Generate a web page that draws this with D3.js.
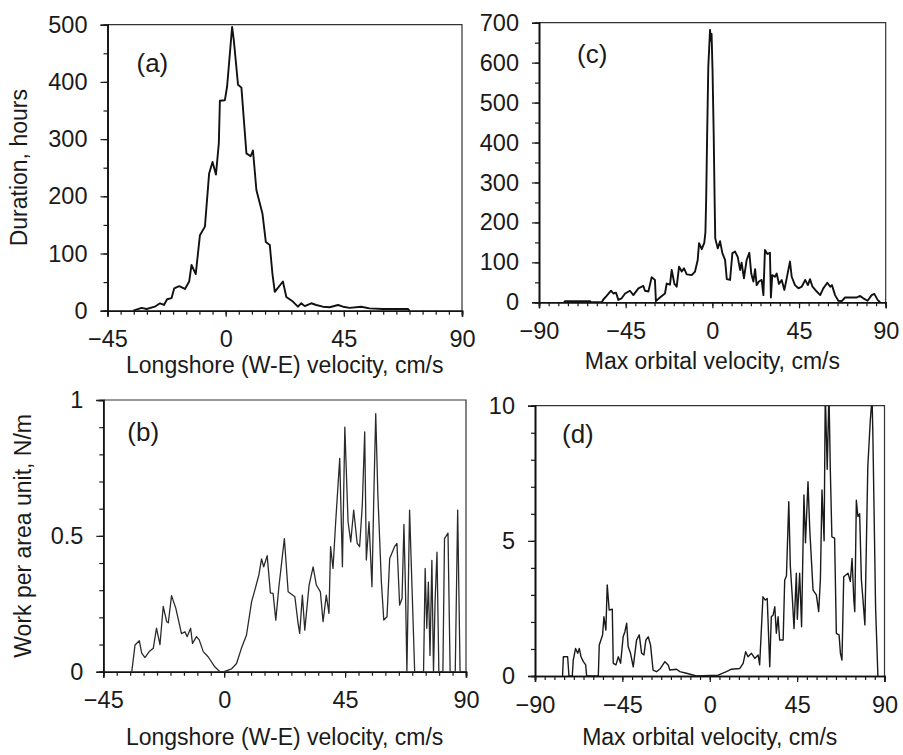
<!DOCTYPE html>
<html>
<head>
<meta charset="utf-8">
<script src="https://cdnjs.cloudflare.com/ajax/libs/d3/7.8.5/d3.min.js"></script>
<style>
  body { margin: 0; background: #fff; }
  svg { display: block; }
  text { font-family: "Liberation Sans", Arial, sans-serif; fill: #1a1a1a; }
</style>
</head>
<body>
<div id="svg-container"></div>
<script>
// ---- data ----
// (a) duration vs longshore velocity
var velA = [-35.2, -32, -30.1, -27, -25, -23.5, -22.3, -20.6, -19.6, -17.7,
  -15.5, -13.9, -13, -11.4, -9.8, -7.9, -6.3, -5, -3.7, -2.6,
  -2.2, -0.3, 0.55, 2.45, 3.1, 4.7, 6, 7.9, 9.5, 10.4,
  11.7, 14, 15.3, 16.8, 17.8, 18.7, 21.8, 23.1, 25.6, 27.5,
  28.8, 30.1, 32.6, 34.5, 37, 39.6, 42.8, 44.7, 47.2, 51.6,
  54.8, 59.9, 65, 69.4, 70]
var durA = [0, 5, 3, 7, 13, 10, 20, 22, 39, 43,
  38, 51, 80, 64, 132, 147, 240, 260, 238, 293,
  367, 368, 392, 496, 473, 395, 390, 275, 270, 280,
  211, 170, 120, 115, 65, 33, 51, 24, 16, 7,
  13, 8, 13, 10, 7, 6, 10, 7, 5, 7,
  4, 3, 3, 3, 0]

// (b) work vs longshore velocity
var velB = [-34.4, -33.2, -31.6, -30.7, -29.5, -27.9, -26.4, -25.2, -23.9, -22.7,
  -21.4, -20.8, -19.6, -18, -15.9, -14.6, -13.8, -12.5, -11.8, -10.3,
  -9.3, -7.8, -6, -3.5, -1.6, 0, 2.7, 4.6, 6.4, 8.3,
  10.2, 11.4, 12.9, 13.9, 14.7, 16, 17.2, 18.2, 19.2, 20.3,
  21.7, 22.4, 23.8, 26.3, 27.5, 28.1, 29.1, 30, 31.6, 33.1,
  34.3, 35.8, 36.8, 38, 39, 39.6, 40.5, 41.5, 43, 44,
  44.9, 46.1, 47.1, 48.2, 49.5, 50.4, 51.4, 52.3, 52.9, 53.9,
  55, 55.7, 56.4, 57.2, 58.5, 59.4, 60.6, 61.6, 63.4, 64.3,
  65.3, 66.2, 66.9, 67.5, 68, 69, 70.9, 74.2, 74.8, 75.4,
  76, 76.6, 77.3, 77.9, 78.5, 79.2, 79.9, 81.4, 82, 83.3,
  84.1, 86, 86.9, 87.8, 90]
var workB = [0, 0.098, 0.114, 0.068, 0.052, 0.074, 0.086, 0.16, 0.1, 0.24,
  0.184, 0.18, 0.28, 0.233, 0.14, 0.147, 0.129, 0.16, 0.104, 0.129,
  0.117, 0.074, 0.055, 0.018, 0, 0, 0.01, 0.03, 0.086, 0.135,
  0.258, 0.3, 0.356, 0.415, 0.386, 0.427, 0.29, 0.288, 0.19, 0.307,
  0.43, 0.49, 0.294, 0.276, 0.178, 0.141, 0.282, 0.153, 0.319, 0.386,
  0.319, 0.294, 0.184, 0.282, 0.215, 0.46, 0.38, 0.552, 0.785, 0.386,
  0.9, 0.552, 0.478, 0.595, 0.472, 0.46, 0.613, 0.883, 0.411, 0.552,
  0.313, 0.65, 0.95, 0.65, 0.331, 0.19, 0.202, 0.417, 0.46, 0.472,
  0.245, 0.27, 0.542, 0.29, 0, 0.595, 0, 0, 0.38, 0.16,
  0.33, 0.06, 0.41, 0, 0.26, 0.44, 0, 0, 0.49, 0.51,
  0, 0, 0.595, 0, 0]

// (c) duration vs max orbital velocity
var velC = [-77, -76.5, -63.5, -63, -57.4, -56.6, -54.9, -52.6, -51.4, -50,
  -48.8, -47.1, -45.3, -42.8, -41, -38.4, -35.8, -35, -33.2, -31.5,
  -29.8, -29.3, -27.2, -24.6, -23.7, -22, -21.1, -19.7, -18.5, -17.3,
  -15.9, -14.7, -13.3, -10.7, -9, -7.6, -6.9, -5.5, -4.2, -3.6,
  -3.2, -2.7, -2.1, -1.2, -0.8, -0.4, 0.1, 0.7, 1.2, 1.5,
  2.8, 4, 5.2, 6.6, 7.5, 9.2, 10.4, 11.8, 13.2, 14.4,
  15.2, 16.4, 17.8, 19.2, 20.2, 21.3, 22.2, 23, 24.2, 25.6,
  26.5, 27.3, 28.6, 29.9, 30.4, 31.1, 32.5, 33.4, 34.6, 36,
  37.4, 38.6, 40.3, 41.2, 42.9, 44.7, 46.4, 48.2, 49.6, 50.7,
  52, 54.2, 56, 57.6, 59.7, 61.2, 62.1, 63.7, 65.4, 67.2,
  68.9, 72.4, 75, 76.7, 78.4, 80.6, 82.7, 84.1, 85.8, 87.1]
var durC = [0, 3, 3, 0, 0, 7, 16, 29, 22, 24,
  6, 10, 22, 29, 18, 35, 41, 29, 27, 63,
  56, 3, 12, 22, 47, 44, 81, 46, 39, 89,
  77, 85, 70, 68, 77, 106, 148, 133, 149, 175,
  260, 420, 590, 682, 655, 672, 580, 420, 250, 160,
  135, 153, 123, 106, 58, 56, 123, 127, 113, 81,
  99, 60, 106, 124, 72, 52, 83, 43, 52, 56,
  18, 131, 121, 124, 12, 68, 64, 72, 46, 56,
  31, 60, 102, 64, 43, 35, 39, 56, 43, 58,
  39, 27, 18, 35, 49, 39, 43, 18, 4, 3,
  12, 12, 12, 16, 10, 4, 18, 21, 6, 0]

// (d) work vs max orbital velocity
var velD = [-75.8, -75.4, -73.2, -72.5, -70.8, -70.3, -69.1, -68, -67.2, -66.3,
  -65.1, -63.9, -63.4, -57.4, -56.9, -55.2, -54.5, -53.5, -52.8, -51.8,
  -50.2, -49.7, -48.3, -47.1, -45.9, -44.6, -43.7, -42.8, -42, -40.8,
  -39.4, -37.7, -36.3, -35.1, -33.9, -32.9, -31.7, -30.5, -29.2, -27.4,
  -25.4, -23.1, -21.4, -20.6, -17.1, -15.4, -12, -6.8, 4.3, 8.6,
  11.2, 15.5, 17.2, 18.5, 19.7, 21.5, 23.2, 24.9, 25.7, 27.4,
  28.6, 29.6, 30.9, 31.7, 32.6, 33.5, 34.3, 35.2, 36, 37.8,
  38.6, 39.5, 40.7, 41.5, 42.5, 43.4, 44.6, 45.1, 46.3, 47.3,
  48.5, 49.3, 50.6, 51.5, 53.2, 54.9, 56.1, 57, 57.8, 58.9,
  59.5, 60.5, 61.4, 62.1, 62.9, 64.3, 65.2, 66.6, 67.3, 68.1,
  69, 71.2, 72.4, 73.3, 74.2, 74.7, 75.5, 76.3, 77.2, 78.1,
  79, 79.9, 81.4, 82.7, 83.6, 84, 85.4, 86.6]
var workD = [0, 0.71, 0.71, 0, 0, 0.59, 1.02, 0.84, 1.02, 0.71,
  0.53, 0.41, 0, 0, 1.15, 1.52, 2.19, 1.7, 3.37, 2.44,
  2.47, 0.47, 0.41, 0.71, 0.47, 1.45, 1.64, 1.95, 1.08, 0.84,
  0.34, 1.33, 1.52, 0.84, 0.78, 1.33, 1.45, 1.15, 0.22, 0.16,
  0.28, 0.53, 0.41, 0.22, 0.25, 0.16, 0.1, 0, 0.03, 0.16,
  0.25, 0.28, 0.47, 0.9, 0.71, 0.84, 0.65, 0.78, 0.41, 2.93,
  2.81, 2.87, 0.34, 2.19, 2.25, 2.56, 1.58, 2.19, 1.33, 1.33,
  3.55, 3.7, 6.45, 4.07, 2.93, 1.76, 3.8, 2.1, 3.8, 1.82,
  6.7, 4.93, 7.19, 5.43, 3.18, 3.0, 2.38, 3.6, 6.88, 5.0,
  10.5, 7.65, 10.5, 7.6, 5.15, 5.1, 1.58, 1.52, 0.84, 0.59,
  3.67, 3.8, 3.5, 4.35, 2.81, 2.38, 6.5, 5.9, 6.0, 3.55,
  2.75, 1.89, 7.74, 9.47, 10.3, 8.98, 2.56, 0]

// tick labels
var longTicks = [-45, 0, 45, 90]
var orbTicks = [-90, -45, 0, 45, 90]
var durTicksA = [0, 100, 200, 300, 400, 500]
var durTicksC = [0, 100, 200, 300, 400, 500, 600, 700]
var workTicksB = [0, 0.5, 1]
var workTicksD = [0, 5, 10]

var longTitle = "Longshore (W-E) velocity, cm/s"
var orbTitle = "Max orbital velocity, cm/s"

// ---- panel layout ----
var panels = [
  {id: "a", label: "(a)", xs: velA, ys: durA, left: 107.5, right: 462, top: 24.7, bottom: 310.7,
   xDom: [-45, 90], yDom: [0, 500], xTicks: longTicks, yTicks: durTicksA, yMinor: 50,
   xTitle: longTitle, titleY: 373, yTitle: "Duration, hours", titleX: 27, labX: 29, labY: 47, lw: 1.9, lc: "#111"},
  {id: "c", label: "(c)", xs: velC, ys: durC, left: 539, right: 885.7, top: 22.7, bottom: 302.3,
   xDom: [-90, 90], yDom: [0, 700], xTicks: orbTicks, yTicks: durTicksC, yMinor: 50,
   xTitle: orbTitle, titleY: 369, yTitle: null, labX: 38, labY: 40, lw: 1.9, lc: "#111"},
  {id: "b", label: "(b)", xs: velB, ys: workB, left: 103.3, right: 466, top: 400, bottom: 671.7,
   xDom: [-45, 90], yDom: [0, 1], xTicks: longTicks, yTicks: workTicksB, yMinor: 0.1,
   xTitle: longTitle, titleY: 745, yTitle: "Work per area unit, N/m", titleX: 31, labX: 24, labY: 41, lw: 1.3, lc: "#2a2a2a"},
  {id: "d", label: "(d)", xs: velD, ys: workD, left: 535, right: 884.5, top: 405.7, bottom: 676,
   xDom: [-90, 90], yDom: [0, 10], xTicks: orbTicks, yTicks: workTicksD, yMinor: 1,
   xTitle: orbTitle, titleY: 745, yTitle: null, labX: 27, labY: 37, lw: 1.4, lc: "#1a1a1a"}
]

var svg = d3.select("div#svg-container")
  .append("svg")
  .attr("width", 903)
  .attr("height", 755)

svg.append("rect").attr("width", 903).attr("height", 755).attr("fill", "#fff")

panels.forEach(function (p) {
  var x = d3.scaleLinear().domain(p.xDom).range([p.left, p.right])
  var y = d3.scaleLinear().domain(p.yDom).range([p.bottom, p.top])
  var g = svg.append("g").attr("class", "panel-" + p.id)

  // clip so spikes above the top get cut like in the figure
  g.append("clipPath").attr("id", "clip-" + p.id)
    .append("rect")
    .attr("x", p.left).attr("y", p.top)
    .attr("width", p.right - p.left).attr("height", p.bottom - p.top)

  // frame top + right
  g.append("path")
    .attr("d", "M" + p.left + "," + p.top + "H" + p.right + "V" + p.bottom)
    .attr("fill", "none").attr("stroke", "#333").attr("stroke-width", 1.2)

  // minor ticks every 5 cm/s and every half label step
  var xMinor = d3.range(p.xDom[0], p.xDom[1] + 0.1, 5)
  var yMinor = d3.range(0, p.yDom[1] + p.yMinor / 2, p.yMinor)

  g.append("g")
    .attr("transform", "translate(0," + p.bottom + ")")
    .call(d3.axisBottom(x).tickValues(xMinor).tickSize(4).tickFormat(""))
  g.append("g")
    .attr("transform", "translate(" + p.left + ",0)")
    .call(d3.axisLeft(y).tickValues(yMinor).tickSize(4).tickFormat(""))

  // labelled ticks
  g.append("g")
    .attr("transform", "translate(0," + p.bottom + ")")
    .call(d3.axisBottom(x).tickValues(p.xTicks).tickSize(6).tickPadding(14).tickFormat(d3.format("")))
  g.append("g")
    .attr("transform", "translate(" + p.left + ",0)")
    .call(d3.axisLeft(y).tickValues(p.yTicks).tickSize(7).tickPadding(13).tickFormat(d3.format("")))

  g.selectAll(".tick line").attr("stroke", "#1a1a1a").attr("stroke-width", 1.2)
  g.selectAll(".domain").attr("stroke", "#111").attr("stroke-width", 1.6)
  g.selectAll(".tick text")
    .attr("font-size", "23.5px")
    .attr("font-family", "'Liberation Sans', Arial, sans-serif")
    .attr("fill", "#1a1a1a")

  // the curve
  var pts = p.xs.map(function (v, i) { return [v, p.ys[i]] })
  var line = d3.line().x(function (d) { return x(d[0]) }).y(function (d) { return y(d[1]) })
  g.append("path")
    .datum(pts)
    .attr("clip-path", "url(#clip-" + p.id + ")")
    .attr("d", line)
    .attr("fill", "none")
    .attr("stroke", p.lc)
    .attr("stroke-width", p.lw)
    .attr("stroke-linejoin", "round")

  // panel letter
  g.append("text")
    .attr("x", p.left + p.labX)
    .attr("y", p.top + p.labY)
    .attr("font-size", "26px")
    .text(p.label)

  // axis titles
  g.append("text")
    .attr("x", (p.left + p.right) / 2)
    .attr("y", p.titleY)
    .attr("text-anchor", "middle")
    .attr("font-size", "23px")
    .text(p.xTitle)

  if (p.yTitle) {
    g.append("text")
      .attr("transform", "translate(" + p.titleX + "," + ((p.top + p.bottom) / 2) + ") rotate(-90)")
      .attr("text-anchor", "middle")
      .attr("font-size", "23px")
      .text(p.yTitle)
  }
})
</script>
</body>
</html>
